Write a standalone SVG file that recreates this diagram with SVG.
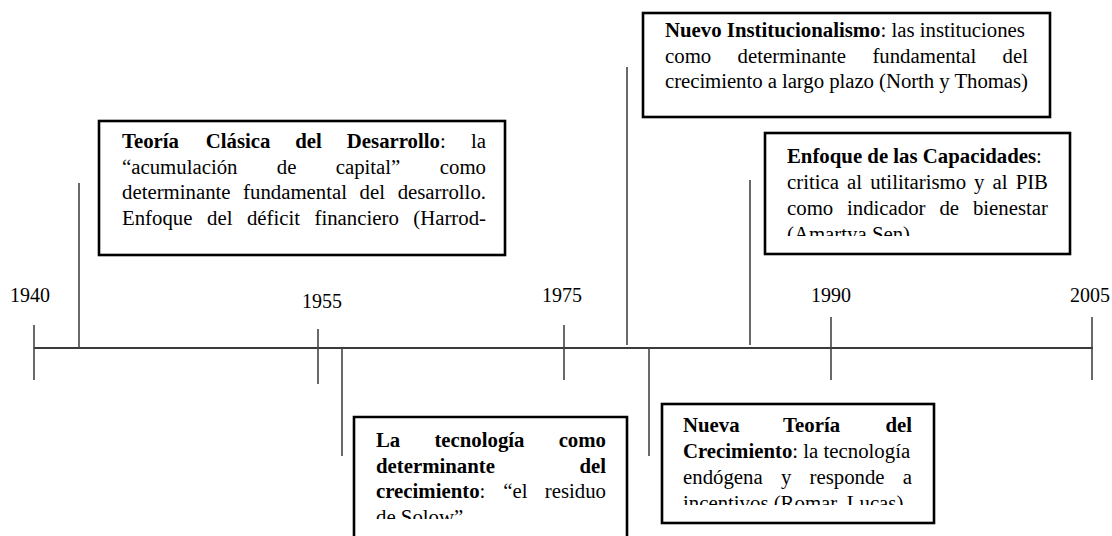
<svg xmlns="http://www.w3.org/2000/svg" width="1112" height="536" viewBox="0 0 1112 536">
<style>
text{font-family:"Liberation Serif","Times New Roman",serif;font-size:20.8px;fill:#000}
.b{font-weight:bold}
.e{text-anchor:end}
.yr{font-size:20px}
.box{fill:#fff;stroke:#000;stroke-width:2.6}
.ln{stroke:#444;stroke-width:1.6;fill:none}
.ax{stroke:#3a3a3a;stroke-width:2;fill:none}
</style>
<defs>
<clipPath id="c3"><rect x="765" y="133" width="305" height="103"/></clipPath>
<clipPath id="c4"><rect x="354" y="417" width="273" height="102"/></clipPath>
<clipPath id="c5"><rect x="662" y="404" width="272" height="101"/></clipPath>
</defs>
<rect width="1112" height="536" fill="#fff"/>

<g id="axis">
<line class="ax" x1="34" y1="348" x2="1093" y2="348"/>
<line class="ln" x1="34" y1="325" x2="34" y2="380"/>
<line class="ln" x1="318" y1="329" x2="318" y2="384"/>
<line class="ln" x1="564" y1="325" x2="564" y2="380"/>
<line class="ln" x1="831" y1="317" x2="831" y2="380"/>
<line class="ln" x1="1092" y1="317" x2="1092" y2="380"/>
<text class="yr" x="10" y="302">1940</text>
<text class="yr" x="302" y="308">1955</text>
<text class="yr" x="542" y="302">1975</text>
<text class="yr" x="811" y="302">1990</text>
<text class="yr" x="1070" y="302">2005</text>
</g>

<g id="connectors">
<line class="ln" x1="79" y1="183" x2="79" y2="348"/>
<line class="ln" x1="342" y1="348" x2="342" y2="456"/>
<line class="ln" x1="627" y1="67" x2="627" y2="345"/>
<line class="ln" x1="649" y1="348" x2="649" y2="456"/>
<line class="ln" x1="750" y1="180" x2="750" y2="345"/>
</g>

<g id="clasica">
<rect class="box" x="99" y="121" width="406" height="134"/>
<text y="148"><tspan class="b" x="122">Teoría</tspan><tspan class="b" x="205.8">Clásica</tspan><tspan class="b" x="295.3">del</tspan><tspan class="b" x="346.8">Desarrollo</tspan>:</text>
<text class="e" x="486" y="148">la</text>
<text y="173.7"><tspan x="122">“acumulación</tspan><tspan x="276.8">de</tspan><tspan x="335.7">capital”</tspan></text>
<text class="e" x="486" y="173.7">como</text>
<text y="199.4"><tspan x="122">determinante</tspan><tspan x="243.1">fundamental</tspan><tspan x="359.6">del</tspan></text>
<text class="e" x="486" y="199.4">desarrollo.</text>
<text y="225.1"><tspan x="122">Enfoque</tspan><tspan x="207">del</tspan><tspan x="246.9">déficit</tspan><tspan x="314.5">financiero</tspan></text>
<text class="e" x="486" y="225.1">(Harrod-</text>
</g>

<g id="institucionalismo">
<rect class="box" x="643" y="13" width="407" height="104"/>
<text x="665" y="37"><tspan class="b">Nuevo Institucionalismo</tspan>: las instituciones</text>
<text y="62.7"><tspan x="665">como</tspan><tspan x="737.5">determinante</tspan><tspan x="872.4">fundamental</tspan></text>
<text class="e" x="1028" y="62.7">del</text>
<text x="665" y="88.4" textLength="363" lengthAdjust="spacing">crecimiento a largo plazo (North y Thomas)</text>
</g>

<g id="capacidades">
<rect class="box" x="765" y="133" width="305" height="121"/>
<g clip-path="url(#c3)">
<text x="787" y="163"><tspan class="b">Enfoque de las Capacidades</tspan>:</text>
<text y="189"><tspan x="787">critica</tspan><tspan x="847.1">al</tspan><tspan x="870.2">utilitarismo</tspan><tspan x="974.1">y</tspan><tspan x="992.6">al</tspan></text>
<text class="e" x="1048" y="189">PIB</text>
<text y="215"><tspan x="787">como</tspan><tspan x="847">indicador</tspan><tspan x="939.4">de</tspan></text>
<text class="e" x="1048" y="215">bienestar</text>
<text x="787" y="241">(Amartya Sen)</text>
</g>
</g>

<g id="tecnologia">
<path class="box" d="M354,540 V417 H627 V540"/>
<g clip-path="url(#c4)">
<text y="447" class="b"><tspan x="376">La</tspan><tspan x="434.4">tecnología</tspan></text>
<text class="b e" x="606" y="447">como</text>
<text class="b" x="376" y="472.7">determinante</text>
<text class="b e" x="606" y="472.7">del</text>
<text y="498.4"><tspan x="376" class="b">crecimiento</tspan>:<tspan x="503.2">“el</tspan></text>
<text class="e" x="606" y="498.4">residuo</text>
<text x="376" y="524">de Solow”</text>
</g>
</g>

<g id="nueva-teoria">
<rect class="box" x="662" y="404" width="272" height="119"/>
<g clip-path="url(#c5)">
<text y="432" class="b"><tspan x="683">Nueva</tspan><tspan x="783.1">Teoría</tspan></text>
<text class="b e" x="912" y="432">del</text>
<text x="683" y="458"><tspan class="b">Crecimiento</tspan>: la tecnología</text>
<text y="484"><tspan x="683">endógena</tspan><tspan x="780.9">y</tspan><tspan x="809.5">responde</tspan></text>
<text class="e" x="912" y="484">a</text>
<text x="683" y="510">incentivos (Romar, Lucas)</text>
</g>
</g>
</svg>
